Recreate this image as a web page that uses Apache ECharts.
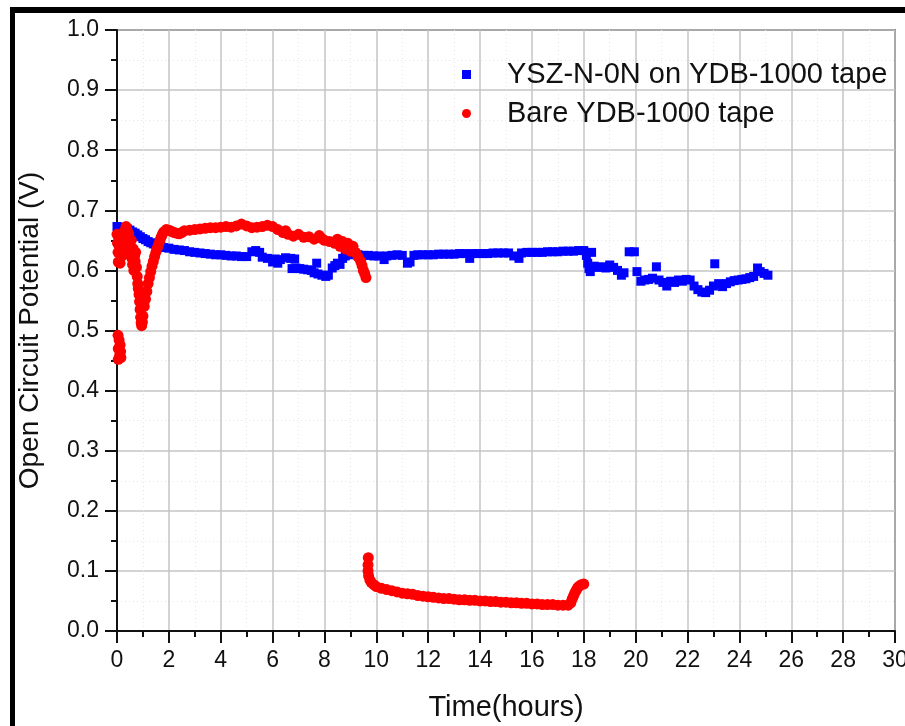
<!DOCTYPE html>
<html>
<head>
<meta charset="utf-8">
<script src="https://cdn.jsdelivr.net/npm/echarts@6/dist/echarts.min.js"></script>
<style>
html,body{margin:0;padding:0;background:#fff;}
#c{width:905px;height:726px;}
</style>
</head>
<body>
<div id="c"></div>
<script>
// ---- Data ----
var seriesNames = ['YSZ-N-0N on YDB-1000 tape', 'Bare YDB-1000 tape'];
var xTicks = [0,2,4,6,8,10,12,14,16,18,20,22,24,26,28,30];
var yTicks = [0.0,0.1,0.2,0.3,0.4,0.5,0.6,0.7,0.8,0.9,1.0];

// Blue squares: YSZ-N-0N on YDB-1000 tape  [time (h), OCP (V)]
var blueEarly = [
 [0.0,0.673],[0.1,0.672],[0.2,0.671],[0.3,0.670],[0.4,0.669],[0.5,0.667],[0.6,0.664],[0.7,0.662],
 [0.8,0.659],[0.9,0.656],[1.0,0.653],[1.1,0.651],[1.2,0.648],[1.3,0.646],[1.4,0.644],[1.5,0.642],
 [1.6,0.640],[1.7,0.639],[1.8,0.638],[2.0,0.637],[2.2,0.635],[2.4,0.634],[2.6,0.633],[2.8,0.631],
 [3.0,0.630],[3.2,0.629],[3.4,0.628],[3.6,0.627],[3.8,0.626],[4.0,0.626],[4.2,0.625],[4.4,0.624],
 [4.6,0.624],[4.8,0.623],[5.0,0.623],[5.2,0.631],[5.35,0.633],[5.5,0.630],[5.6,0.622],[5.8,0.620],
 [6.0,0.614],[6.1,0.619],[6.2,0.612],[6.3,0.618],[6.5,0.621],[6.7,0.620],[6.85,0.619]
];
var blueDip = [
 [6.75,0.603],[6.9,0.604],[7.05,0.603],[7.2,0.602],[7.35,0.601],[7.5,0.600],[7.6,0.596],[7.7,0.612],
 [7.75,0.594],[7.9,0.592],[8.05,0.590],[8.15,0.592],[8.3,0.604],[8.4,0.608],[8.5,0.612],[8.6,0.610],
 [8.7,0.620],[8.8,0.624],[8.9,0.627]
];
var blueFlat = [
 [9.1,0.626],[9.3,0.626],[9.5,0.625],[9.7,0.625],[9.9,0.624],[10.1,0.624],[10.3,0.618],[10.4,0.624],
 [10.6,0.625],[10.8,0.626],[11.0,0.625],[11.2,0.612],[11.3,0.614],[11.45,0.625],[11.6,0.626],[11.8,0.626],
 [12.0,0.626],[12.2,0.626],[12.4,0.627],[12.6,0.627],[12.8,0.627],[13.0,0.627],[13.2,0.628],[13.4,0.628],
 [13.6,0.620],[13.7,0.628],[13.9,0.628],[14.1,0.628],[14.3,0.628],[14.5,0.629],[14.7,0.629],[14.9,0.629],
 [15.1,0.629],[15.3,0.624],[15.5,0.620],[15.6,0.629],[15.8,0.630],[16.0,0.630],[16.2,0.630],[16.4,0.630],
 [16.6,0.631],[16.8,0.631],[17.0,0.631],[17.2,0.632],[17.4,0.632],[17.6,0.632],[17.8,0.633],[18.0,0.633]
];
var blueLate = [
 [18.1,0.625],[18.15,0.612],[18.2,0.603],[18.25,0.598],[18.3,0.630],[18.4,0.607],[18.55,0.605],[18.7,0.606],
 [18.85,0.604],[19.0,0.609],[19.15,0.605],[19.3,0.600],[19.45,0.592],[19.55,0.596],[19.75,0.631],[19.95,0.631],
 [20.05,0.598],[20.2,0.582],[20.35,0.584],[20.5,0.585],[20.65,0.587],[20.8,0.606],[20.9,0.584],[21.05,0.580],
 [21.2,0.574],[21.35,0.582],[21.5,0.580],[21.65,0.584],[21.8,0.582],[21.95,0.585],[22.1,0.584],[22.25,0.574],
 [22.4,0.568],[22.55,0.564],[22.7,0.563],[22.85,0.567],[23.0,0.574],[23.05,0.611],[23.2,0.578],[23.35,0.573],
 [23.5,0.578],[23.65,0.581],[23.8,0.583],[23.95,0.584],[24.1,0.585],[24.25,0.586],[24.4,0.588],[24.55,0.590],
 [24.7,0.604],[24.8,0.598],[24.95,0.595],[25.1,0.592]
];

// Red circles: Bare YDB-1000 tape  [time (h), OCP (V)]
var redStart = [
 [0.00,0.660],[0.02,0.645],[0.04,0.630],[0.05,0.614],[0.08,0.652],[0.10,0.640],[0.12,0.612],[0.15,0.656],
 [0.18,0.636],[0.20,0.624],[0.22,0.660],[0.25,0.646],[0.28,0.630],[0.30,0.666],[0.35,0.673],[0.38,0.668],
 [0.40,0.655],[0.42,0.640],[0.45,0.661],[0.48,0.645],[0.50,0.626],[0.52,0.636],[0.55,0.650],[0.58,0.620],
 [0.60,0.610],[0.62,0.636],[0.65,0.600],[0.68,0.625],[0.70,0.615],[0.72,0.630],[0.75,0.605]
];
var redLowStart = [
 [0.04,0.492],[0.08,0.484],[0.12,0.476],[0.05,0.470],[0.14,0.465],[0.10,0.458],[0.05,0.452],[0.15,0.455]
];
var redRecovery = [
 [0.78,0.590],[0.80,0.578],[0.82,0.570],[0.85,0.560],[0.87,0.548],[0.89,0.535],[0.91,0.522],[0.93,0.513],
 [0.95,0.508],[0.98,0.514],[1.00,0.524],[1.05,0.540],[1.10,0.552],[1.15,0.565],[1.20,0.578],[1.25,0.588],
 [1.30,0.598],[1.35,0.607],[1.40,0.615],[1.45,0.623],[1.50,0.630],[1.55,0.637],[1.60,0.643],[1.65,0.649],
 [1.70,0.655],[1.75,0.660],[1.80,0.664],[1.90,0.668],[2.00,0.667],[2.10,0.665],[2.20,0.663],[2.30,0.662],
 [2.40,0.661],[2.50,0.663],[2.60,0.666],[2.80,0.667],[3.00,0.668],[3.20,0.669],[3.40,0.670],[3.60,0.671],
 [3.80,0.671],[4.00,0.672],[4.20,0.673],[4.40,0.672],[4.60,0.674],[4.80,0.677],[5.00,0.674],[5.20,0.671],
 [5.40,0.672],[5.60,0.673],[5.80,0.675],[6.00,0.673],[6.20,0.668],[6.40,0.663],[6.50,0.666],[6.60,0.660],
 [6.80,0.657],[7.00,0.660],[7.20,0.655],[7.40,0.656],[7.60,0.652],[7.80,0.658],[7.90,0.653],[8.00,0.650],
 [8.20,0.648],[8.40,0.645],[8.50,0.652],[8.60,0.640],[8.70,0.648],[8.80,0.636],[8.90,0.645],[9.00,0.632],
 [9.10,0.640],[9.20,0.630],[9.30,0.622],[9.40,0.615],[9.45,0.608],[9.50,0.600],[9.55,0.595],[9.60,0.588]
];
var redDrop = [
 [9.69,0.122],[9.68,0.110],[9.68,0.100],[9.70,0.092],[9.75,0.085],[9.80,0.081],[9.90,0.077],[10.0,0.074],
 [10.2,0.071],[10.4,0.069],[10.6,0.067],[10.8,0.065],[11.0,0.063],[11.2,0.062],[11.4,0.061],[11.6,0.059],
 [11.8,0.058],[12.0,0.057],[12.2,0.056],[12.4,0.055],[12.6,0.054],[12.8,0.054],[13.0,0.053],[13.2,0.052],
 [13.4,0.052],[13.6,0.051],[13.8,0.051],[14.0,0.050],[14.2,0.050],[14.4,0.049],[14.6,0.049],[14.8,0.048],
 [15.0,0.048],[15.2,0.047],[15.4,0.047],[15.6,0.046],[15.8,0.046],[16.0,0.045],[16.2,0.045],[16.4,0.044],
 [16.6,0.044],[16.8,0.044],[17.0,0.043],[17.2,0.043],[17.4,0.043],[17.5,0.047],[17.55,0.053],[17.6,0.058],
 [17.65,0.063],[17.7,0.067],[17.75,0.071],[17.8,0.074],[17.9,0.077],[18.0,0.078]
];

var blueData = [].concat(blueEarly, blueDip, blueFlat, blueLate);
var redData = [].concat(redStart, redLowStart, redRecovery, redDrop);

var FONT = '"Liberation Sans", Arial, sans-serif';
var chart = echarts.init(document.getElementById('c'), null, {renderer: 'canvas'});

function axisCommon() {
  return {
    axisLine: {show: true, onZero: false, lineStyle: {color: '#111', width: 2}},
    axisTick: {show: true, length: 12, lineStyle: {color: '#111', width: 2}},
    minorTick: {show: true, splitNumber: 2, length: 6, lineStyle: {color: '#111', width: 2}},
    splitLine: {show: true, lineStyle: {color: '#c4c4c4', width: 1.5}},
    minorSplitLine: {show: true, lineStyle: {color: '#e6e6e6', width: 1, type: [1, 3]}},
    axisLabel: {color: '#111', fontSize: 23, fontFamily: FONT, margin: 18}
  };
}

var xAx = axisCommon();
xAx.type = 'value'; xAx.min = xTicks[0]; xAx.max = xTicks[xTicks.length-1]; xAx.interval = 2;
xAx.name = 'Time(hours)'; xAx.nameLocation = 'middle'; xAx.nameGap = 62;
xAx.nameTextStyle = {color: '#111', fontSize: 29, fontFamily: FONT};
xAx.axisLabel.formatter = function(v){ return String(v); };

var yAx = axisCommon();
yAx.type = 'value'; yAx.min = yTicks[0]; yAx.max = yTicks[yTicks.length-1]; yAx.interval = 0.1;
yAx.name = 'Open Circuit Potential (V)'; yAx.nameLocation = 'middle'; yAx.nameGap = 73;
yAx.nameTextStyle = {color: '#111', fontSize: 28, fontFamily: FONT};
yAx.axisLabel.formatter = function(v){ return v.toFixed(1); };

chart.setOption({
  animation: false,
  backgroundColor: '#fff',
  grid: {left: 117, right: 10, top: 30, bottom: 95, containLabel: false, outerBoundsMode: 'none',
         show: true, borderColor: '#222', borderWidth: 1.5, backgroundColor: 'transparent'},
  graphic: [
    {type: 'rect', shape: {x: 10, y: 7, width: 895, height: 6}, style: {fill: '#000'}, z: 100},
    {type: 'rect', shape: {x: 10, y: 7, width: 5, height: 719}, style: {fill: '#000'}, z: 100}
  ],
  legend: {
    orient: 'vertical', left: 457, top: 55, itemGap: 10,
    itemWidth: 9, itemHeight: 9,
    textStyle: {color: '#111', fontSize: 29, fontFamily: FONT, padding: [0, 0, 0, 31]},
    data: [
      {name: seriesNames[0], icon: 'rect', itemStyle: {color: '#0000ff'}},
      {name: seriesNames[1], icon: 'circle', itemStyle: {color: '#ff0000'}}
    ]
  },
  xAxis: xAx,
  yAxis: yAx,
  series: [
    {name: seriesNames[0], type: 'scatter', data: blueData, symbol: 'rect', symbolSize: 9,
     itemStyle: {color: '#0000ff', opacity: 1}},
    {name: seriesNames[1], type: 'scatter', data: redData, symbol: 'circle', symbolSize: 11,
     itemStyle: {color: '#ff0000', opacity: 1}}
  ]
});
</script>
</body>
</html>
